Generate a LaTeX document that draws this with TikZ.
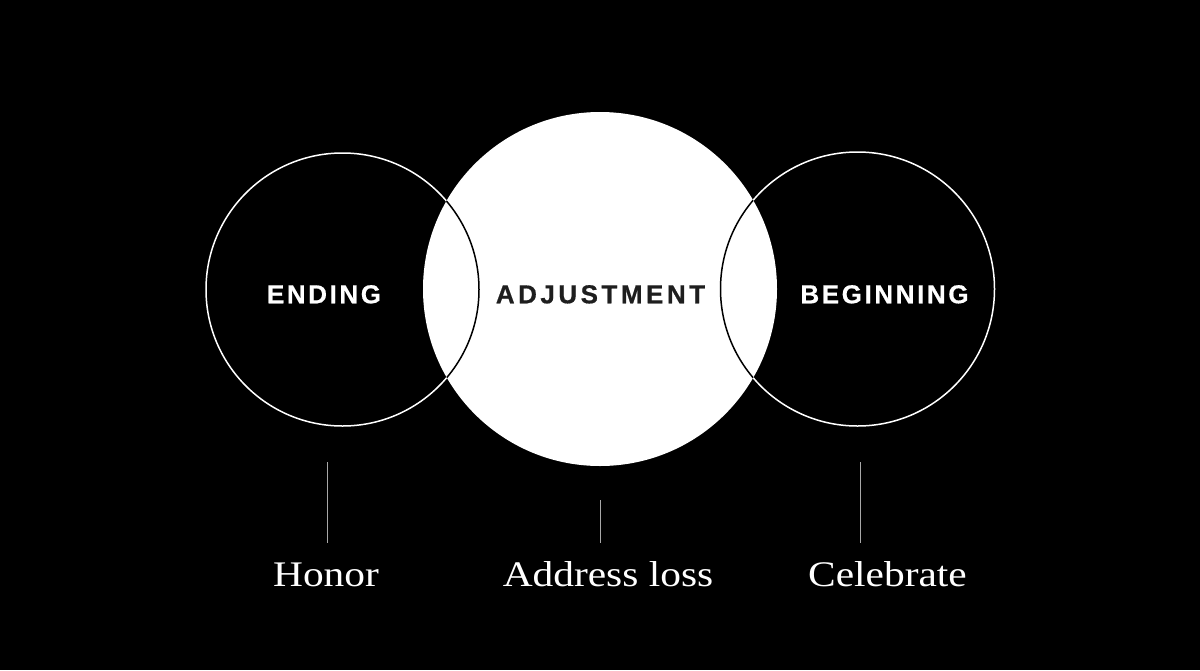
\documentclass[tikz,border=0pt]{standalone}
\usepackage{fontspec}
\setmainfont{Liberation Serif}
\newfontfamily\labelfont[FakeStretch=1.15]{Liberation Serif}
\newfontfamily\headfont[LetterSpace=10,BoldFeatures={FakeBold=0.6}]{Liberation Sans}
\definecolor{inkdark}{HTML}{1E1E1E}
\definecolor{tick}{HTML}{A8A8A8}
\begin{document}
\begin{tikzpicture}[x=1pt,y=-1pt,
  ring/.style={circle, draw=white, line width=1.5pt, inner sep=0pt},
  core/.style={circle, fill=white, inner sep=0pt, minimum size=354pt},
  head/.style={anchor=base, inner sep=0pt, font=\headfont\bfseries\fontsize{26}{30}\selectfont},
  lab/.style={anchor=base, inner sep=0pt, text=white, font=\labelfont\fontsize{36}{40}\selectfont},
  tickline/.style={draw=tick, line width=1pt}
]
\fill[black] (0,0) rectangle (1200,670);
\useasboundingbox (0,0) rectangle (1200,670);

% outer rings
\node[ring, minimum size=273pt] (endc) at (342.5,289.5) {};
\node[ring, minimum size=274pt] (begc) at (857.5,289) {};
% central white disc
\node[core] (adjc) at (600,289) {};
% ring arcs inside the white disc, drawn black
\begin{scope}
  \clip (600,289) circle (177);
  \draw[black, line width=1.5pt] (342.5,289.5) circle (136.5);
  \draw[black, line width=1.5pt] (857.5,289) circle (137);
\end{scope}

% headings
\node[head, text=white] (endt) at (324,303.3) {ENDING};
\node[head, text=inkdark] (adjt) at (600.5,303.3) {\addfontfeature{LetterSpace=13.5}ADJUSTMENT};
\node[head, text=white] (begt) at (884.5,303.3) {BEGINNING};

% labels
\node[lab] (honor) at (326,586.7) {Honor};
\node[lab] (loss) at (608,586.7) {Address loss};
\node[lab] (celeb) at (887.5,586.7) {Celebrate};

% tick lines
\coordinate (t1a) at (327,462);
\coordinate (t1b) at (327,543);
\coordinate (t2a) at (600,500);
\coordinate (t2b) at (600,543);
\coordinate (t3a) at (860,462);
\coordinate (t3b) at (860,543);
\draw[tickline] (t1a) -- (t1b);
\draw[tickline] (t2a) -- (t2b);
\draw[tickline] (t3a) -- (t3b);
\end{tikzpicture}
\end{document}
